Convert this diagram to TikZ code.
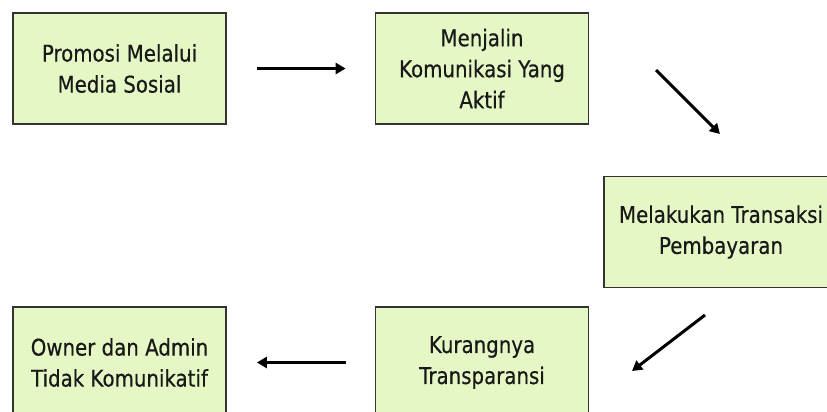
\documentclass[tikz,border=0pt]{standalone}
\usepackage{fontspec}
\setmainfont[FakeStretch=0.86,FakeBold=0.4]{DejaVu Sans}
\usetikzlibrary{arrows.meta}
\definecolor{boxfill}{HTML}{E4F7C4}
\definecolor{boxline}{HTML}{333333}
\tikzset{
  stepbox/.style={draw=boxline, fill=boxfill, line width=1.7pt,
    minimum width=213pt, minimum height=111pt, inner sep=0pt,
    align=center, text=black!90, font=\fontsize{23}{31}\selectfont},
  arr/.style={line width=3pt, -{Triangle[length=10pt,width=11pt]}}
}
\begin{document}
\begin{tikzpicture}[x=1pt,y=-1pt]
  \useasboundingbox (0,0) rectangle (827,412);
  \clip (0,0) rectangle (827,412);
  \node[stepbox] (promosi) at (119.5,68.5) {Promosi Melalui\\Media Sosial};
  \node[stepbox] (menjalin) at (482,68.5) {Menjalin\\Komunikasi Yang\\Aktif};
  \node[stepbox, minimum width=234pt] (transaksi) at (721,232) {Melakukan Transaksi\\Pembayaran};
  \node[stepbox] (kurang) at (482,362.5) {Kurangnya\\Transparansi};
  \node[stepbox] (owner) at (119.5,362.5) {Owner dan Admin\\Tidak Komunikatif};
  % diagonal ends
  \coordinate (d1a) at (656,70);
  \coordinate (d1b) at (720,134);
  \coordinate (d2a) at (705,315);
  \coordinate (d2b) at (632,371);
  \draw[arr, shorten <=30pt, shorten >=29pt] (promosi.east) -- (menjalin.west);
  \draw[arr] (d1a) -- (d1b);
  \draw[arr] (d2a) -- (d2b);
  \draw[arr, shorten <=29pt, shorten >=30pt] (kurang.west) -- (owner.east);
\end{tikzpicture}
\end{document}
